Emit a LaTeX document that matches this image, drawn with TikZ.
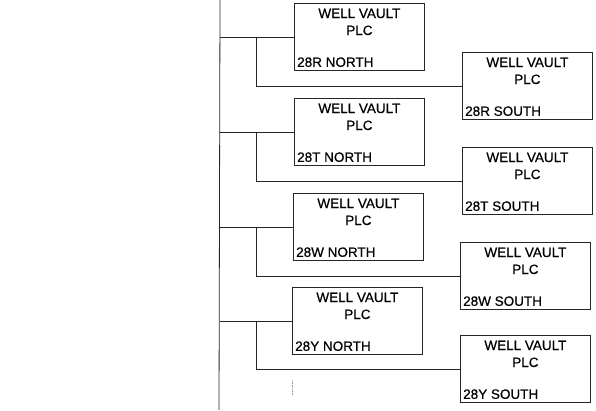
\documentclass[tikz,border=0pt]{standalone}
\usepackage{fontspec}
\setmainfont{Liberation Sans}
\newfontfamily\vfont{Liberation Sans}[FakeBold=0.5]
\usetikzlibrary{calc}
\tikzset{
 vbox/.style={draw=black!85, line width=0.8pt, minimum width=130pt, minimum height=67pt, anchor=north west, inner sep=0pt},
 ttl/.style={anchor=base, inner sep=0pt, font=\vfont\fontsize{13.5}{15}\selectfont},
 lbl/.style={anchor=base west, inner sep=0pt, font=\vfont\fontsize{13.5}{15}\selectfont},
 wire/.style={line width=0.8pt, draw=black!85}
}
\newcommand\vault[4]{%
 \node[vbox] (#1) at (#2,#3) {};
 \node[ttl] (#1-a) at ($(#1.north)+(0,15)$) {WELL VAULT};
 \node[ttl] (#1-b) at ($(#1.north)+(0,32)$) {PLC};
 \node[lbl] (#1-c) at ($(#1.south west)+(3,-4)$) {#4};
}
\begin{document}
\begin{tikzpicture}[x=1pt,y=-1pt]
\useasboundingbox (0,0) rectangle (596,410);
\coordinate (mt) at (220,0);
\coordinate (mb) at (219,410);
\coordinate (br) at (256,0);
\draw[wire] (mt) -- (mb);
\vault{rn}{294}{3}{28R NORTH}
\vault{rs}{462}{52}{28R SOUTH}
\vault{tn}{294}{98}{28T NORTH}
\vault{ts}{462}{147}{28T SOUTH}
\vault{wn}{293}{193}{28W NORTH}
\vault{ws}{460}{242}{28W SOUTH}
\vault{yn}{292}{287}{28Y NORTH}
\vault{ys}{460}{335}{28Y SOUTH}
\foreach \n/\s in {rn/rs,tn/ts,wn/ws,yn/ys}{
 \draw[wire] (\n.west) -- (\n.west -| mt);
 \draw[wire] (\n.west -| br) |- (\s.west);
}
\coordinate (d1) at (292,380);
\coordinate (d2) at (292,396);
\draw[densely dotted, black!40, line width=0.6pt] (d1) -- (d2);
\end{tikzpicture}
\end{document}
